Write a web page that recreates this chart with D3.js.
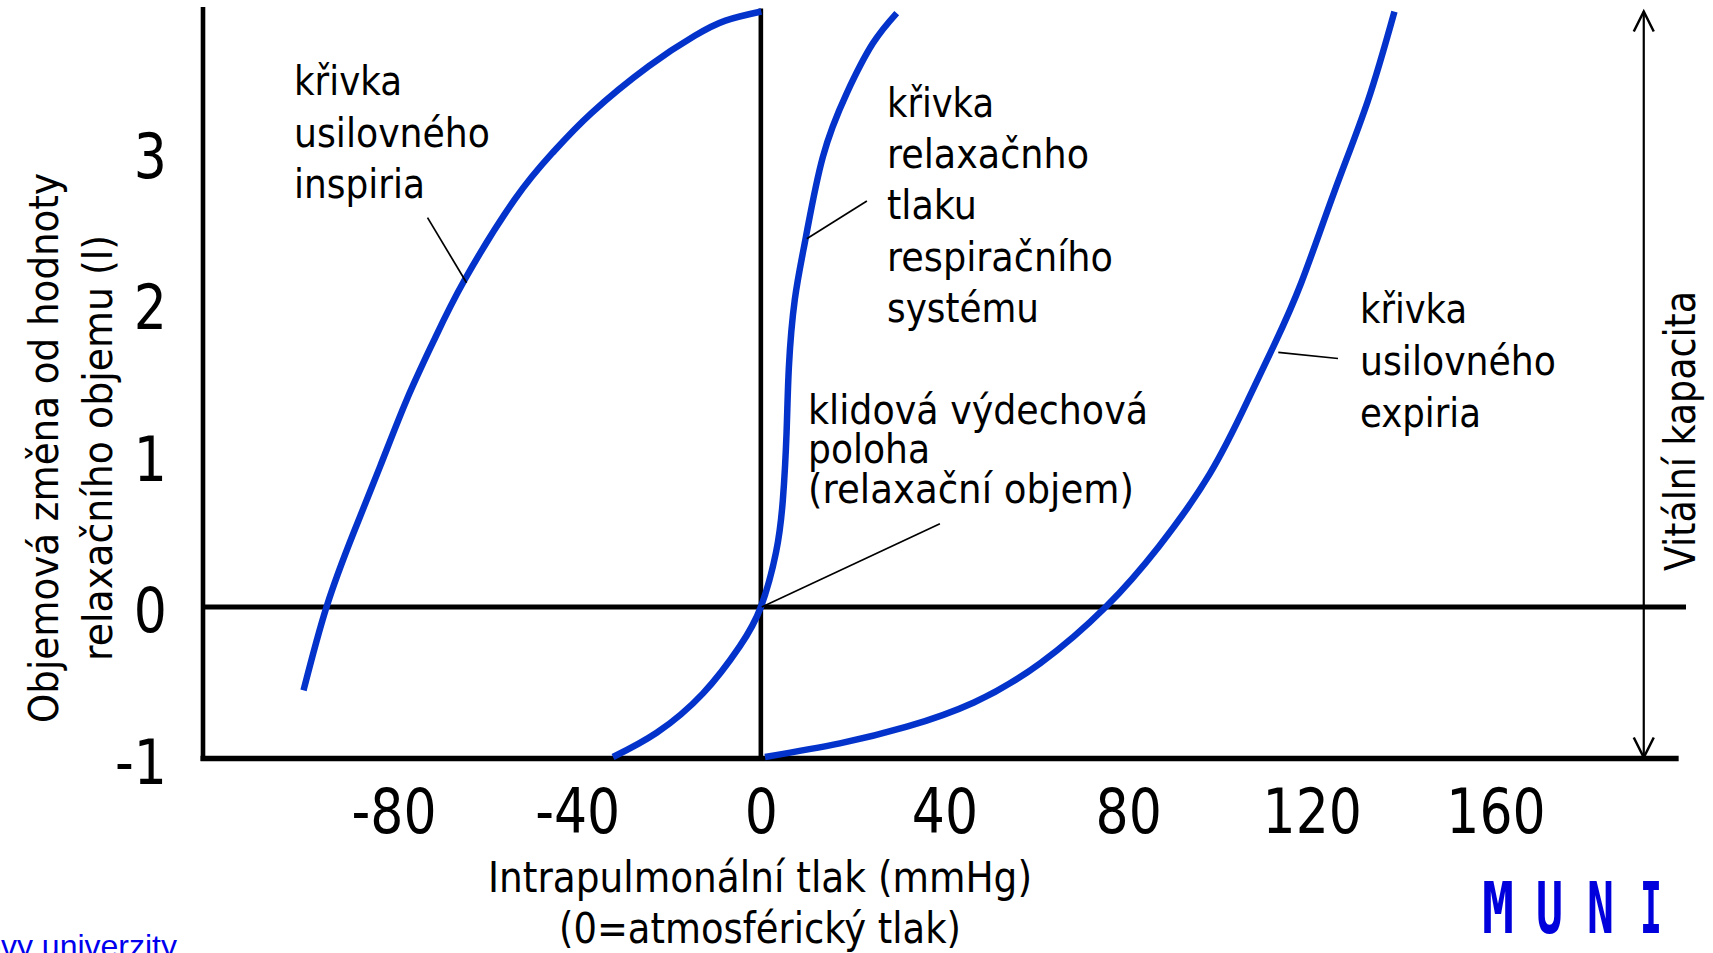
<!DOCTYPE html>
<html lang="cs">
<head>
<meta charset="utf-8">
<title>Křivky tlak - objem</title>
<script src="https://cdnjs.cloudflare.com/ajax/libs/d3/7.8.5/d3.min.js"></script>
<style>
  body { margin: 0; background: #fff; overflow: hidden; }
  svg { display: block; }
  text { font-family: "DejaVu Sans", Verdana, sans-serif; fill: #000; }
</style>
</head>
<body>
<svg width="1713" height="953"></svg>
<script>
// osy
var xTicks = [-80, -40, 0, 40, 80, 120, 160];
var yTicks = [-1, 0, 1, 2, 3];

// křivka usilovného inspiria (tlak mmHg, objem l)
var inspX = [-99.6, -94.6, -88.7, -82.9, -77.1, -71.2, -64.5, -53.6, -45.3, -36.9, -24.4, -14.4, -7.7, 0.1];
var inspY = [-0.55, 0, 0.49, 0.93, 1.37, 1.76, 2.16, 2.69, 3.00, 3.26, 3.57, 3.77, 3.87, 3.93];

// křivka relaxačního tlaku respiračního systému
var relX = [-32.2, -22.7, -12.6, -4.6, 0, 3.3, 4.8, 5.6, 6.1, 7.4, 9.8, 13.5, 18.7, 24.4, 29.6];
var relY = [-0.99, -0.83, -0.57, -0.26, 0, 0.36, 0.71, 1.15, 1.58, 2.03, 2.44, 2.97, 3.39, 3.72, 3.92];

// křivka usilovného expiria
var expX = [0.9, 17.2, 31.8, 46.4, 60.9, 75.1, 86.7, 97.8, 106.0, 111.8, 117.7, 124.9, 132.2, 138.0];
var expY = [-0.99, -0.90, -0.79, -0.63, -0.37, 0, 0.40, 0.88, 1.36, 1.73, 2.14, 2.74, 3.34, 3.93];

// odkazové čáry k popiskům [x1, y1, x2, y2] v jednotkách grafu
var leaders = [
    [-72.6, 2.57, -64.1, 2.14],
    [23.1, 2.68, 10.0, 2.43],
    [39.0, 0.55, 0.2, 0.0],
    [125.7, 1.64, 112.7, 1.68]
];

var svg = d3.select("svg");

var x = d3.scaleLinear().domain([-121.5, 201.5]).range([203, 1686]);
var y = d3.scaleLinear().domain([-1, 3.96]).range([758.5, 7]);

function squeeze(sel, k) {
    sel.each(function() {
        var w = this.getComputedTextLength();
        d3.select(this).attr("textLength", w * k).attr("lengthAdjust", "spacingAndGlyphs");
    });
}

// čáry os
svg.append("line")
    .attr("x1", x(-121.5)).attr("x2", x(-121.5))
    .attr("y1", y(3.96)).attr("y2", y(-1) + 2.5)
    .attr("stroke", "#000").attr("stroke-width", 4.6);
svg.append("line")
    .attr("x1", x(0)).attr("x2", x(0))
    .attr("y1", y(3.95)).attr("y2", y(-1) + 2.5)
    .attr("stroke", "#000").attr("stroke-width", 4.6);
svg.append("line")
    .attr("x1", x(-121.5) - 2).attr("x2", x(201.5))
    .attr("y1", y(0)).attr("y2", y(0))
    .attr("stroke", "#000").attr("stroke-width", 4.8);
svg.append("line")
    .attr("x1", x(-121.5) - 2.5).attr("x2", x(199.9))
    .attr("y1", y(-1)).attr("y2", y(-1))
    .attr("stroke", "#000").attr("stroke-width", 5.3);

var gx = svg.append("g")
    .attr("transform", "translate(0," + y(-1) + ")")
    .call(d3.axisBottom(x).tickValues(xTicks).tickSize(0).tickFormat(function(d) { return String(d); }));
gx.select(".domain").remove();
gx.selectAll("text")
    .attr("y", 74.5).attr("dy", null)
    .style("font-size", "62px");
squeeze(gx.selectAll("text"), 0.84);

var gy = svg.append("g")
    .attr("transform", "translate(" + x(-121.5) + ",0)")
    .call(d3.axisLeft(y).tickValues(yTicks).tickSize(0).tickFormat(function(d) { return String(d); }));
gy.select(".domain").remove();
gy.selectAll("text")
    .attr("x", -36).attr("dy", "0.4em")
    .style("font-size", "62px");
squeeze(gy.selectAll("text"), 0.84);

// křivky
var line = d3.line()
    .x(function(d) { return x(d[0]); })
    .y(function(d) { return y(d[1]); })
    .curve(d3.curveNatural);

[[inspX, inspY], [relX, relY], [expX, expY]].forEach(function(s) {
    svg.append("path")
        .datum(d3.zip(s[0], s[1]))
        .attr("d", line)
        .attr("fill", "none")
        .attr("stroke", "#0433cc")
        .attr("stroke-width", 6.5);
});

svg.selectAll(".leader")
    .data(leaders)
    .enter().append("line")
    .attr("class", "leader")
    .attr("x1", function(d) { return x(d[0]); })
    .attr("y1", function(d) { return y(d[1]); })
    .attr("x2", function(d) { return x(d[2]); })
    .attr("y2", function(d) { return y(d[3]); })
    .attr("stroke", "#000")
    .attr("stroke-width", 1.7);

// vitální kapacita - šipka
var ax = x(192.3), top0 = y(3.93), bot0 = y(-1) - 1;
svg.append("line")
    .attr("x1", ax).attr("x2", ax).attr("y1", top0).attr("y2", bot0)
    .attr("stroke", "#000").attr("stroke-width", 2.2);
svg.append("path")
    .attr("d", "M" + (ax - 10) + "," + (top0 + 20) + "L" + ax + "," + top0 + "L" + (ax + 10) + "," + (top0 + 20))
    .attr("fill", "none").attr("stroke", "#000").attr("stroke-width", 2.5);
svg.append("path")
    .attr("d", "M" + (ax - 10) + "," + (bot0 - 20) + "L" + ax + "," + bot0 + "L" + (ax + 10) + "," + (bot0 - 20))
    .attr("fill", "none").attr("stroke", "#000").attr("stroke-width", 2.5);

// popisky
function label(lines, x0, baselines, widths, size) {
    lines.forEach(function(t, i) {
        svg.append("text")
            .attr("x", x0).attr("y", baselines[i])
            .style("font-size", size + "px")
            .attr("textLength", widths[i])
            .attr("lengthAdjust", "spacingAndGlyphs")
            .text(t);
    });
}

label(["křivka", "usilovného", "inspiria"], 294, [95, 147, 198], [108, 196, 131], 41);
label(["křivka", "relaxačnho", "tlaku", "respiračního", "systému"], 887,
      [117, 168, 219, 271, 322], [107, 202, 90, 226, 152], 41);
label(["klidová výdechová", "poloha", "(relaxační objem)"], 808, [424, 463, 503], [340, 122, 326], 41);
label(["křivka", "usilovného", "expiria"], 1360, [323, 375, 427], [107, 196, 121], 41);

// názvy os
[["Objemová změna od hodnoty", 58, 550], ["relaxačního objemu (l)", 112, 426]].forEach(function(r) {
    svg.append("text")
        .attr("transform", "translate(" + r[1] + ",448) rotate(-90)")
        .attr("text-anchor", "middle")
        .style("font-size", "41px")
        .attr("textLength", r[2]).attr("lengthAdjust", "spacingAndGlyphs")
        .text(r[0]);
});

[["Intrapulmonální tlak (mmHg)", 892, 544], ["(0=atmosférický tlak)", 943, 402]].forEach(function(r) {
    svg.append("text")
        .attr("x", 760).attr("y", r[1])
        .attr("text-anchor", "middle")
        .style("font-size", "43px")
        .attr("textLength", r[2]).attr("lengthAdjust", "spacingAndGlyphs")
        .text(r[0]);
});

svg.append("text")
    .attr("transform", "translate(1695,431) rotate(-90)")
    .attr("text-anchor", "middle")
    .style("font-size", "43.5px")
    .attr("textLength", 280).attr("lengthAdjust", "spacingAndGlyphs")
    .text("Vitální kapacita");

// logo
var muni = ["M", "U", "N", "I"];
var muniX = [1498, 1549.5, 1600.5, 1651];
var muniW = [32, 27, 27, 22];
muni.forEach(function(c, i) {
    svg.append("text")
        .attr("x", muniX[i] - muniW[i] / 2).attr("y", 933)
        .style("font-family", "'DejaVu Sans Mono', monospace")
        .style("font-size", "71px").style("font-weight", "bold")
        .style("fill", "#0000dc")
        .attr("textLength", muniW[i]).attr("lengthAdjust", "spacingAndGlyphs")
        .text(c);
});

svg.append("text")
    .attr("x", 177).attr("y", 957)
    .attr("text-anchor", "end")
    .style("font-family", "'Liberation Sans', Arial, sans-serif")
    .style("font-size", "32px")
    .style("fill", "#0000ee")
    .text("Masarykovy univerzity");
</script>
</body>
</html>
